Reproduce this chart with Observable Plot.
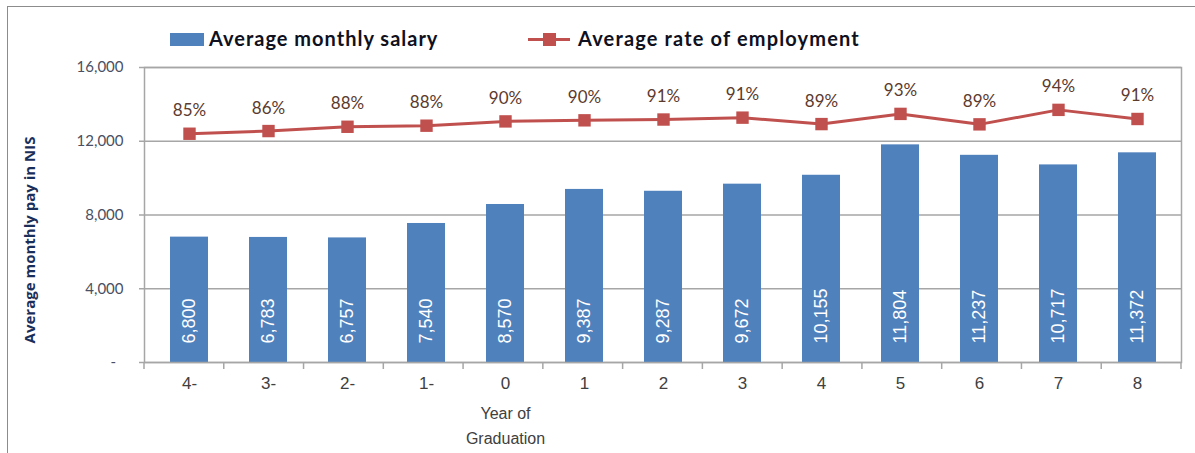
<!DOCTYPE html>
<html>
<head>
<meta charset="utf-8">
<script src="https://cdn.jsdelivr.net/npm/d3@7"></script>
<script src="https://cdn.jsdelivr.net/npm/@observablehq/plot@0.6"></script>
<style>
  html, body { margin: 0; padding: 0; background: #fff; }
  #wrap { position: relative; width: 1195px; height: 453px; overflow: hidden; background: #fff; }
  #border { position: absolute; left: 7px; top: 6px; width: 1300px; height: 600px;
            border-left: 1.5px solid #8c8c8c; border-top: 1.5px solid #8c8c8c; }
  #chart { position: absolute; left: 0; top: 0; }
</style>
</head>
<body>
<div id="wrap">
  <div id="border"></div>
  <div id="chart"></div>
  <svg id="legend" width="1195" height="60" style="position:absolute;left:0;top:0">
    <rect x="170" y="33" width="34" height="13" fill="#4f81bd"></rect>
    <text x="209" y="46" font-family="Lato, 'Noto Sans', sans-serif" font-weight="bold" font-size="20" letter-spacing="1" fill="#0f1020">Average monthly salary</text>
    <line x1="528" x2="570" y1="39.5" y2="39.5" stroke="#c0504d" stroke-width="3"></line>
    <rect x="543" y="33" width="13" height="13" fill="#c0504d"></rect>
    <text x="578" y="46" font-family="Lato, 'Noto Sans', sans-serif" font-weight="bold" font-size="20" letter-spacing="1.15" fill="#0f1020">Average rate of employment</text>
  </svg>
</div>
<script>
// ---- data ----
const categories = ["4-", "3-", "2-", "1-", "0", "1", "2", "3", "4", "5", "6", "7", "8"];
const salary = [6800, 6783, 6757, 7540, 8570, 9387, 9287, 9672, 10155, 11804, 11237, 10717, 11372];
const employmentRate = [85.3, 86.3, 87.9, 88.3, 89.9, 90.3, 90.6, 91.3, 88.9, 92.7, 88.8, 94.2, 90.8];
const yTicks = [0, 4000, 8000, 12000, 16000];
const yAxisTitle = "Average monthly pay in NIS";
const xAxisTitle = "Year of\nGraduation";

// secondary (hidden) axis for the employment rate: 0% .. 110%
const yMax = 16000;
const rateAxisMax = 110;
const rateToY = r => r / rateAxisMax * yMax;

const rows = categories.map((c, i) => ({cat: c, salary: salary[i], rate: employmentRate[i]}));

const gridColor = "#a6a6a6";
const blue = "#4f81bd";
const red = "#c0504d";

const xTicksMark = (index, scales, values, dim) => {
  const step = (dim.width - dim.marginLeft - dim.marginRight) / categories.length;
  const y0 = dim.height - dim.marginBottom;
  const g = d3.create("svg:g");
  for (let i = 0; i <= categories.length; i++) {
    const x = dim.marginLeft + i * step;
    g.append("line").attr("x1", x).attr("x2", x).attr("y1", y0).attr("y2", y0 + 7)
      .attr("stroke", gridColor).attr("stroke-width", 1.5);
  }
  return g.node();
};

const plot = Plot.plot({
  width: 1195,
  height: 453,
  marginLeft: 144,
  marginRight: 14,
  marginTop: 67,
  marginBottom: 91,
  style: {fontFamily: "'Liberation Sans', Arial, sans-serif", background: "transparent", overflow: "visible"},
  x: {type: "band", domain: categories, paddingInner: 0.524, paddingOuter: 0.262, align: 0.5, axis: null},
  y: {domain: [0, yMax], axis: null},
  marks: [
    Plot.gridY(yTicks, {stroke: gridColor, strokeOpacity: 1, strokeWidth: 1.5}),
    Plot.barY(rows, {x: "cat", y: "salary", fill: blue}),
    Plot.frame({stroke: gridColor, strokeWidth: 1.5}),
    Plot.axisY({ticks: yTicks, tickSize: 5, tickFormat: () => "", stroke: gridColor, strokeWidth: 1.5, label: null}),
    Plot.axisY({ticks: yTicks, tickSize: 0, tickPadding: 21, fontSize: 15, fill: "#4a4f63",
      fontFamily: "Lato, sans-serif",
      tickFormat: d => d === 0 ? "-\u2002" : d3.format(",")(d), label: null}),
    xTicksMark,
    Plot.axisX({tickSize: 0, tickPadding: 14, fontSize: 17, fill: "#404040", label: null}),
    Plot.text([xAxisTitle], {x: () => "0", y: () => 0, dy: 61, lineHeight: 1.6, fontSize: 16,
      fill: "#404040", lineAnchor: "middle"}),
    Plot.text([yAxisTitle], {frameAnchor: "left", textAnchor: "middle", dx: -114, dy: 25, rotate: -90, fontSize: 15,
      fontWeight: "bold", fill: "#1a2e5a", fontFamily: "'Open Sans', sans-serif"}),
    Plot.text(rows, {x: "cat", y: () => 0, text: d => d3.format(",")(d.salary), rotate: -90,
      textAnchor: "start", lineAnchor: "middle", dy: -19, fill: "white", fontSize: 18}),
    Plot.line(rows, {x: "cat", y: d => rateToY(d.rate), stroke: red, strokeWidth: 3}),
    Plot.dot(rows, {x: "cat", y: d => rateToY(d.rate), symbol: "square", r: 7, fill: red}),
    Plot.text(rows, {x: "cat", y: d => rateToY(d.rate), text: d => Math.round(d.rate) + "%",
      dy: -23, fontSize: 17, fill: "#5c3a2e", fontFamily: "Lato, sans-serif", lineAnchor: "middle"})
  ]
});
document.getElementById("chart").appendChild(plot);
</script>
</body>
</html>
